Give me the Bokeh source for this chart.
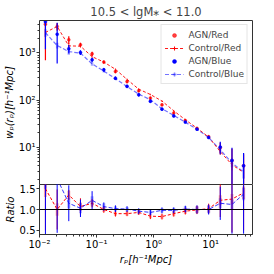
import math
from bokeh.plotting import figure
from bokeh.models import (Range1d, ColumnDataSource, Legend, LegendItem, LogAxis,
                          CustomJSTickFormatter, FixedTicker, Span, PrintfTickFormatter)
from bokeh.layouts import column
from bokeh.embed import file_html
from bokeh.resources import INLINE

# ---------------- data ----------------
rp = [0.0127, 0.0204, 0.0326, 0.0522, 0.0835, 0.134, 0.214, 0.342, 0.548,
      0.877, 1.40, 2.25, 3.59, 5.75, 9.20, 14.7, 23.6, 37.7]

agn_red = [4100, 3660, 1910, 1490, 960, 640, 405, 247, 158, 110, 79, 53, 36.5, 25, 16.6, 9.8, 5.2, 4.0]
agn_red_err = [3400, 700, 350, 150, 100, 50, 35, 20, 12, 8, 5, 3, 2, 1.5, 1.2, 2.5, 4.0, 3.0]
ctrl_red = [2730, 3660, 1415, 1395, 835, 640, 450, 274, 170, 131, 95, 59, 38, 25.3, 16.3, 8.0, 4.2, 2.9]
ctrl_red_err = [600, 500, 200, 100, 60, 30, 20, 12, 8, 5, 3.5, 2.5, 1.8, 1.2, 0.9, 1.2, 1.0, 0.8]

agn_blue = [4600, 2500, 1230, 1025, 715, 440, 290, 195, 129, 94, 64, 46, 34, 24, 16, 10.0, 5.2, 4.0]
agn_blue_err = [3400, 1900, 250, 120, 80, 40, 25, 15, 10, 7, 5, 3, 2, 1.5, 1.2, 3.0, 4.5, 3.5]
ctrl_blue = [2700, 1440, 1070, 995, 586, 411, 284, 193, 134, 101, 65, 47, 33.7, 24, 16, 8.7, 4.6, 2.95]
ctrl_blue_err = [500, 200, 150, 80, 50, 25, 15, 10, 6, 4, 3, 2, 1.5, 1.0, 0.8, 1.0, 0.9, 0.8]

ratio_red = [1.50, 1.00, 1.35, 1.07, 1.15, 1.00, 0.90, 0.90, 0.93, 0.84, 0.83, 0.90, 0.96, 0.99, 1.02, 1.22, 1.25, 1.40]
ratio_red_err = [1.0, 0.48, 0.12, 0.2, 0.1, 0.08, 0.07, 0.06, 0.06, 0.07, 0.07, 0.07, 0.08, 0.1, 0.12, 0.4, 0.8, 0.9]
ratio_red_cerr = [0.2, 0.15, 0.1, 0.1, 0.08, 0.06, 0.05, 0.05, 0.05, 0.05, 0.05, 0.06, 0.07, 0.08, 0.09, 0.12, 0.12, 0.15]

ratio_blue = [1.70, 1.74, 1.15, 1.03, 1.22, 1.07, 1.02, 1.01, 0.96, 0.93, 0.98, 0.98, 1.01, 1.00, 1.00, 1.15, 1.12, 1.37]
ratio_blue_err = [1.3, 1.3, 0.43, 0.21, 0.22, 0.1, 0.08, 0.07, 0.07, 0.07, 0.07, 0.07, 0.08, 0.1, 0.12, 0.4, 0.7, 0.95]
ratio_blue_cerr = [0.2, 0.15, 0.12, 0.12, 0.1, 0.08, 0.06, 0.05, 0.05, 0.05, 0.05, 0.06, 0.07, 0.08, 0.09, 0.12, 0.12, 0.15]

labels = ["AGN/Red", "Control/Red", "AGN/Blue", "Control/Blue"]
title_text = "10.5 < lgM\u204e < 11.0"
xlabel = "r\u209a[h\u207b\u00b9Mpc]"
ylabel = "w\u209a(r\u209a)[h\u207b\u00b9Mpc]"
rlabel = "Ratio"

# ---------------- style ----------------
FONT = "DejaVu Sans"
RED = "#ff0000"
BLUE = "#0000ff"
SPINE = "#333333"

sup_js = """
const m = {"-":"\u207b","0":"\u2070","1":"\u00b9","2":"\u00b2","3":"\u00b3","4":"\u2074",
           "5":"\u2075","6":"\u2076","7":"\u2077","8":"\u2078","9":"\u2079"};
const e = Math.round(Math.log10(tick));
return "10" + String(e).split("").map(c => m[c]).join("");
"""


def style_axes(p):
    p.grid.visible = False
    for ax in p.axis:
        ax.axis_line_color = SPINE
        ax.axis_line_width = 1
        ax.major_tick_in = 0
        ax.major_tick_out = 3
        ax.minor_tick_in = 0
        ax.minor_tick_out = 2
        ax.major_tick_line_color = SPINE
        ax.minor_tick_line_color = SPINE
        ax.major_label_text_font = FONT
        ax.major_label_text_font_size = "10px"
        ax.major_label_text_color = "black"
        ax.major_label_standoff = 1
        ax.axis_label_text_font = FONT
        ax.axis_label_text_font_size = "10px"
        ax.axis_label_text_font_style = "italic"
        ax.axis_label_text_color = "black"
        ax.axis_label_standoff = 1


def bare_axis(cls):
    return cls(ticker=FixedTicker(ticks=[]), axis_line_color=SPINE, axis_line_width=1,
               major_tick_out=0, minor_tick_out=0, major_label_standoff=0)


def bars(p, x, y, e, floor, **kw):
    src = ColumnDataSource(dict(x=x,
                                y0=[max(v - d, floor) for v, d in zip(y, e)],
                                y1=[v + d for v, d in zip(y, e)]))
    return p.segment(x0="x", y0="y0", x1="x", y1="y1", source=src, **kw)


LEFT = 34
FW = 213

# ---------------- top panel ----------------
p1 = figure(x_axis_type="log", y_axis_type="log",
            x_range=Range1d(0.01, 54), y_range=Range1d(1.6, 4900),
            frame_width=FW, frame_height=164, output_backend="svg",
            toolbar_location=None, min_border_left=LEFT, min_border_right=2,
            min_border_top=0, min_border_bottom=0)
p1.outline_line_color = None
p1.title.text = title_text
p1.title.align = "center"
p1.title.text_font = FONT
p1.title.text_font_size = "11.5px"
p1.title.text_font_style = "normal"
p1.title.standoff = 4
style_axes(p1)
p1.xaxis.visible = False
p1.yaxis.axis_label = ylabel
p1.yaxis.formatter = CustomJSTickFormatter(code=sup_js)
p1.add_layout(bare_axis(LogAxis), "above")
p1.add_layout(bare_axis(LogAxis), "right")

bars(p1, rp, ctrl_blue, ctrl_blue_err, 0.5, line_color=BLUE, line_alpha=0.35, line_width=2.5)
l_cb = p1.line(rp, ctrl_blue, line_color=BLUE, line_alpha=0.55, line_width=1.2, line_dash="4 2")
bars(p1, rp, ctrl_red, ctrl_red_err, 0.5, line_color=RED, line_alpha=0.8, line_width=1)
l_cr = p1.line(rp, ctrl_red, line_color=RED, line_alpha=0.9, line_width=1, line_dash="3 2")
# zero-size crosses: invisible on the plot, give the legend its error-bar "+" symbol
c_cr = p1.scatter(rp, ctrl_red, marker="cross", size=0, line_color=RED, line_width=1)
c_cb = p1.scatter(rp, ctrl_blue, marker="cross", size=0, line_color=BLUE, line_alpha=0.5, line_width=1.5)

bars(p1, rp, agn_red, agn_red_err, 0.5, line_color=RED, line_width=1.2)
m_ar = p1.scatter(rp, agn_red, marker="circle", size=3, fill_color=RED, line_color=RED,
                  fill_alpha=0.75, line_alpha=0.75, line_width=0.5)
bars(p1, rp, agn_blue, agn_blue_err, 0.5, line_color=BLUE, line_width=1.2)
m_ab = p1.scatter(rp, agn_blue, marker="circle", size=3, fill_color=BLUE, line_color=BLUE,
                  line_width=0.5)

legend = Legend(items=[
    LegendItem(label=labels[0], renderers=[m_ar]),
    LegendItem(label=labels[1], renderers=[l_cr, c_cr]),
    LegendItem(label=labels[2], renderers=[m_ab]),
    LegendItem(label=labels[3], renderers=[l_cb, c_cb]),
], location="top_right")
legend.label_text_font = FONT
legend.label_text_font_size = "9px"
legend.glyph_width = 19
legend.glyph_height = 10
legend.label_height = 13
legend.spacing = 0
legend.padding = 3
legend.margin = 4
legend.label_standoff = 5
legend.border_line_color = "#cccccc"
legend.border_line_width = 1
legend.background_fill_alpha = 0.85
p1.add_layout(legend)

# ---------------- ratio panel ----------------
p2 = figure(x_axis_type="log", x_range=p1.x_range, y_range=Range1d(0.4, 1.6),
            frame_width=FW, frame_height=50, output_backend="svg",
            toolbar_location=None, min_border_left=LEFT, min_border_right=2,
            min_border_top=0, min_border_bottom=0)
p2.outline_line_color = SPINE
style_axes(p2)
p2.xaxis.axis_label = xlabel
p2.xaxis.formatter = CustomJSTickFormatter(code=sup_js)
p2.yaxis.axis_label = rlabel
p2.yaxis.ticker = FixedTicker(ticks=[0.5, 1.0, 1.5])
p2.yaxis.formatter = PrintfTickFormatter(format="%.1f")
p2.yaxis.minor_tick_out = 0

p2.add_layout(Span(location=1.0, dimension="width", line_color="black", line_width=1))
bars(p2, rp, ratio_red, ratio_red_cerr, 0.3, line_color=RED, line_alpha=0.3, line_width=3)
bars(p2, rp, ratio_blue, ratio_blue_cerr, 0.3, line_color=BLUE, line_alpha=0.3, line_width=3)
p2.line(rp, ratio_red, line_color=RED, line_width=1, line_dash="3 2")
bars(p2, rp, ratio_red, ratio_red_err, 0.3, line_color=RED, line_width=1)
p2.line(rp, ratio_blue, line_color=BLUE, line_width=1, line_alpha=0.8, line_dash="4 2")
bars(p2, rp, ratio_blue, ratio_blue_err, 0.3, line_color=BLUE, line_width=1)

layout = column(p1, p2, spacing=0)
open("out.html", "w").write(file_html(layout, INLINE))
